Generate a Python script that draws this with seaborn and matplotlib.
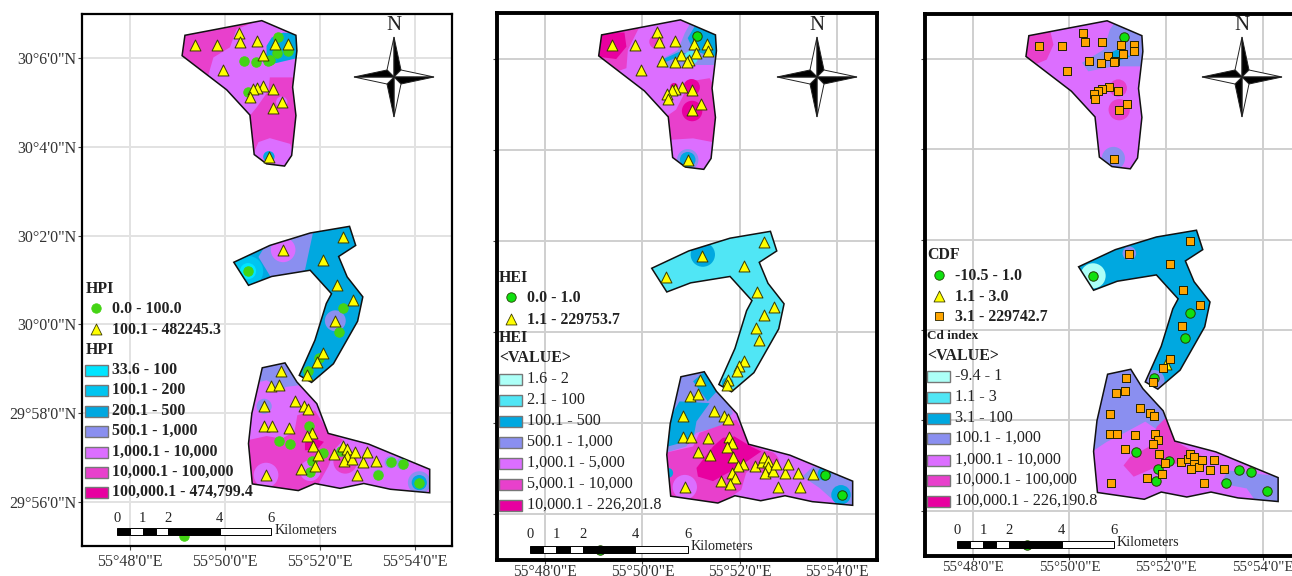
import matplotlib
matplotlib.use("Agg")
import matplotlib.pyplot as plt
import pandas as pd
import seaborn as sns
from matplotlib.patches import Ellipse, Polygon, Rectangle
from matplotlib.path import Path
from matplotlib.patches import PathPatch

# study area outlines, (minutes east of 55 deg, minutes north of 30 deg)
area_north = [(49.16, 6.52), (50.78, 6.85), (51.50, 6.52), (51.52, 6.17), (51.43, 5.35), (51.50, 4.71), (51.41, 3.81),
              (51.26, 3.57), (50.88, 3.62), (50.62, 3.83), (50.53, 4.72), (50.04, 5.29), (49.10, 6.06)]
area_middle = [(50.19, 1.40), (50.95, 1.78), (51.80, 2.06), (52.63, 2.21), (52.76, 1.78), (52.40, 1.53), (52.58, 1.07),
               (52.91, 0.62), (52.80, 0.07), (52.29, -0.89), (51.83, -1.31), (51.57, -1.15), (51.90, -0.36),
               (52.14, 0.47), (52.25, 0.69), (51.80, 1.22), (50.99, 1.08), (50.50, 0.88)]
area_south = [(50.79, -0.98), (51.27, -0.87), (51.52, -1.30), (51.94, -1.79), (52.18, -2.46), (53.03, -2.70),
              (54.32, -3.27), (54.32, -3.80), (53.49, -3.72), (52.93, -3.59), (52.43, -3.70), (51.90, -3.59),
              (51.55, -3.75), (50.58, -3.60), (50.50, -2.69), (50.57, -2.01)]

# sampling points
sample_lon = [49.37, 49.84, 50.29, 50.33, 50.67, 51.06, 51.33, 51.13, 51.34, 51.11, 50.80, 50.95, 50.92, 50.66, 50.41,
              49.96, 50.81, 51.01, 50.67, 50.60, 50.50, 50.53, 51.20, 51.02, 50.93,
              51.23, 52.50, 52.08, 50.49, 52.36, 52.70, 52.50, 52.33, 52.40, 52.08, 51.99, 51.94, 51.76, 51.74,
              51.18, 50.97, 51.15, 51.47, 51.67, 51.75, 50.83, 50.83, 50.99, 51.35, 51.78, 51.83, 51.74, 51.15,
              51.38, 51.86, 52.06, 51.97, 52.31, 52.45, 52.49, 52.57, 52.58, 52.52, 52.68, 52.75, 52.92, 52.99,
              53.19, 53.50, 53.75, 53.24, 54.10, 52.78, 51.83, 51.91, 51.80, 51.61, 50.87, 49.13]
sample_lat = [6.30, 6.30, 6.58, 6.37, 6.38, 6.32, 6.32, 6.49, 6.17, 6.12, 6.07, 5.96, 5.93, 5.92, 5.95,
              5.74, 5.38, 5.30, 5.33, 5.30, 5.23, 5.12, 5.01, 4.87, 3.78,
              1.68, 1.98, 1.46, 1.20, 0.88, 0.56, 0.37, 0.08, -0.17, -0.64, -0.75, -0.85, -1.06, -1.15,
              -1.06, -1.40, -1.36, -1.73, -1.84, -1.90, -1.85, -2.30, -2.30, -2.33, -2.30, -2.44, -2.52, -2.64,
              -2.70, -2.74, -2.90, -2.94, -2.93, -2.86, -2.74, -2.82, -2.97, -3.09, -3.04, -2.89, -3.10, -2.89,
              -3.09, -3.11, -3.14, -3.39, -3.57, -3.40, -3.09, -3.20, -3.34, -3.27, -3.40, -4.77]
hpi_class = list("ttttttt" "ccc" "t" "cccc" "ttttt" "c" "tttt"
                 "tttcttctctctct"
                 "tttttttttt" "c" "tt" "cc" "t" "c" "tt" "c" "ttttttttt" "cccc" "t" "c" "t" "c" "tt" "c")
hei_class = list("ttttttt" "c" "ttttttttttttttttt"
                 "tttttttttttttt"
                 "tttttttttt" "tttttttttt" "tttttttttt" "ctc" "tttttt" "c")
cdf_class = list("sssssss" "c" "sssssssssssssssss"
                 "ssscsscscstscs"
                 "ssssssssss" "ssss" "c" "s" "c" "ssssssssssss" "cccc" "s" "c" "s" "c" "ss" "c")

# zones of the first map
hpi_light_n = [(49.65, 5.61), (49.76, 6.02), (50.11, 6.25), (50.25, 6.66), (50.78, 6.88), (51.59, 6.58), (51.59, 5.57),
               (50.95, 5.57), (50.92, 5.27), (50.67, 4.89), (50.53, 4.71), (50.04, 5.29)]
hpi_blue_n = [(50.88, 6.28), (50.99, 6.47), (51.23, 6.58), (51.59, 6.55), (51.59, 6.02), (50.95, 5.86), (50.81, 5.91),
              (50.88, 6.10)]
hpi_light_n2 = [(50.57, 3.77), (50.71, 4.11), (50.95, 4.20), (51.38, 4.07), (51.48, 3.77), (51.31, 3.51), (50.88, 3.54)]
hpi_peri_m = [(50.71, 1.52), (50.88, 1.82), (51.87, 2.12), (51.69, 1.22), (50.99, 1.03)]
hpi_peri_s = [(50.74, -0.96), (51.31, -0.81), (51.59, -1.37), (51.16, -1.43), (50.88, -1.26), (50.74, -1.30)]
hpi_mag_s = [(50.50, -2.61), (50.88, -2.52), (51.20, -2.58), (51.47, -2.42), (51.53, -2.05), (51.90, -1.94),
             (52.18, -2.42), (52.50, -2.61), (52.33, -2.80), (52.18, -3.21), (51.94, -3.67), (51.55, -3.82),
             (50.53, -3.66)]
hpi_deep_s = [(51.69, -2.67), (51.90, -2.58), (52.09, -2.65), (51.94, -2.84), (51.69, -2.84)]

# zones of the second map
hei_mag_nw = [(49.05, 6.59), (49.94, 6.70), (49.70, 6.19), (49.67, 5.79), (49.46, 5.71), (49.05, 6.04)]
hei_deep_nw = [(49.12, 6.59), (49.63, 6.57), (49.67, 6.26), (49.46, 5.99), (49.09, 6.04)]
hei_mag_n = [(50.69, 4.88), (50.83, 5.17), (50.97, 5.50), (51.38, 5.57), (51.58, 5.17), (51.58, 4.14), (51.04, 4.25),
             (50.59, 4.22), (50.49, 4.73)]
hei_peri_n = [(50.32, 5.94), (50.73, 6.19), (50.87, 6.56), (51.00, 6.81), (51.58, 6.59), (51.55, 5.86), (51.04, 5.86),
              (50.49, 5.79)]
hei_blue_n = [(50.93, 6.45), (51.07, 6.70), (51.58, 6.56), (51.55, 6.05), (51.31, 6.08), (51.04, 6.19)]
hei_blue_n2 = [(50.35, 5.95), (50.76, 6.15), (50.90, 6.11), (50.49, 5.93)]
hei_peri_s = [(50.73, -0.94), (51.31, -0.83), (51.65, -1.19), (51.86, -1.78), (51.58, -2.07), (51.11, -2.21),
              (50.90, -2.51), (50.46, -2.65), (50.49, -1.85)]
hei_blue_s1 = [(51.04, -1.08), (51.31, -0.83), (51.62, -1.19), (51.34, -1.52)]
hei_blue_s2 = [(50.56, -1.89), (50.76, -1.52), (51.38, -1.56), (51.11, -1.96), (51.04, -2.36), (50.52, -2.51)]
hei_mag_s = [(50.46, -2.65), (51.04, -2.51), (51.17, -2.21), (51.93, -1.92), (52.23, -2.47), (52.61, -2.65),
             (52.13, -3.09), (52.03, -3.46), (51.52, -3.82), (50.56, -3.68)]
hei_deep_s = [(51.11, -2.98), (51.45, -2.51), (51.65, -2.32), (51.89, -2.29), (52.23, -2.51), (52.44, -2.62),
              (51.99, -2.95), (51.45, -3.27), (51.14, -3.17)]
hei_peri_e = [(53.50, -2.95), (54.39, -3.20), (54.39, -3.82), (53.91, -3.68), (53.64, -3.42), (53.29, -3.17)]

# zones of the third map
cdf_mag_nw = [(49.05, 6.58), (49.60, 6.64), (49.67, 6.32), (49.53, 5.99), (49.33, 5.90), (49.05, 6.07)]
cdf_peri_n = [(50.26, 5.92), (50.71, 6.21), (50.84, 6.66), (50.98, 6.88), (51.57, 6.62), (51.53, 5.84), (50.91, 5.84),
              (50.39, 5.73)]
cdf_blue_n = [(50.71, 6.07), (50.98, 6.21), (51.26, 6.06), (50.98, 5.95)]
cdf_peri_s = [(50.71, -0.96), (51.29, -0.85), (52.02, -1.85), (52.19, -2.48), (51.57, -2.03), (51.12, -2.29),
              (50.77, -2.48), (50.46, -2.70), (50.53, -2.00)]
cdf_mag_s = [(51.12, -3.00), (51.26, -2.81), (51.64, -2.59), (51.81, -2.14), (52.02, -1.92), (52.22, -2.48),
             (52.77, -2.81), (52.22, -2.96), (51.81, -3.03), (51.33, -3.25)]
cdf_peri_e = [(53.29, -3.11), (54.39, -3.25), (54.39, -3.85), (53.84, -3.77), (53.67, -3.51), (53.12, -3.40)]

hpi_labels = ["33.6 - 100", "100.1 - 200", "200.1 - 500", "500.1 - 1,000", "1,000.1 - 10,000", "10,000.1 - 100,000",
              "100,000.1 - 474,799.4"]
hei_labels = ["1.6 - 2", "2.1 - 100", "100.1 - 500", "500.1 - 1,000", "1,000.1 - 5,000", "5,000.1 - 10,000",
              "10,000.1 - 226,201.8"]
cdf_labels = ["-9.4 - 1", "1.1 - 3", "3.1 - 100", "100.1 - 1,000", "1,000.1 - 10,000", "10,000.1 - 100,000",
              "100,000.1 - 226,190.8"]
lon_ticks = [48, 50, 52, 54]
lon_labels = ["55°48'0\"E", "55°50'0\"E", "55°52'0\"E", "55°54'0\"E"]
lat_ticks = [6, 4, 2, 0, -2, -4]
lat_labels = ["30°6'0\"N", "30°4'0\"N", "30°2'0\"N", "30°0'0\"N", "29°58'0\"N", "29°56'0\"N"]
scale_km = [0, 1, 2, 4, 6]

CYAN, PALE, AQUA, SKY = "#00E5FF", "#ACFFF7", "#50E6F5", "#00C5F0"
BLUE, PERI, ORCHID, MAG, DEEP = "#00A8E0", "#8A8FF0", "#DC6EFF", "#E840CC", "#E800A0"

sns.set_style("white")
plt.rcParams["font.family"] = ["Liberation Serif", "DejaVu Serif"]

df = pd.DataFrame({"lon": sample_lon, "lat": sample_lat, "hpi": hpi_class, "hei": hei_class, "cdf": cdf_class})

panels = [
    {"cls": "hpi", "box": (82, 452, 14, 546), "xlim": (46.99, 54.79), "lw": 1.6, "grid": "#E2E2E2", "ylab": True,
     "green": ("#44D414", "#44D414"), "pad": 2.5, "tick_size": 11.5,
     "base": [MAG, BLUE, ORCHID],
     "zones": [(ORCHID, hpi_light_n), (BLUE, hpi_blue_n), (ORCHID, hpi_light_n2), (PERI, hpi_peri_m),
               (PERI, hpi_peri_s), (MAG, hpi_mag_s), (DEEP, hpi_deep_s)],
     "halos": [(SKY, 50.49, 1.20, 0.32), (CYAN, 50.49, 1.20, 0.17), (ORCHID, 51.23, 1.68, 0.26),
               (PERI, 52.33, 0.08, 0.22), (MAG, 52.54, -3.10, 0.25), (ORCHID, 50.87, -3.40, 0.26),
               (ORCHID, 51.80, -3.30, 0.22), (PERI, 50.83, -1.85, 0.16), (PERI, 51.15, -1.36, 0.14),
               (PERI, 54.10, -3.57, 0.24), (BLUE, 54.10, -3.57, 0.16), (PERI, 53.50, -3.11, 0.13),
               (PERI, 53.75, -3.14, 0.13), (PERI, 53.24, -3.39, 0.11), (ORCHID, 51.20, 5.01, 0.12),
               (BLUE, 50.93, 3.78, 0.12)]},
    {"cls": "hei", "box": (497, 877, 13, 560), "xlim": (47.01, 54.82), "lw": 2.8, "grid": "#CFCFCF", "ylab": False,
     "green": ("#10E010", "#224400"), "pad": 0, "tick_size": 11.2,
     "base": [ORCHID, AQUA, ORCHID],
     "zones": [(MAG, hei_mag_nw), (DEEP, hei_deep_nw), (MAG, hei_mag_n), (PERI, hei_peri_n), (BLUE, hei_blue_n),
               (BLUE, hei_blue_n2), (PERI, hei_peri_s), (BLUE, hei_blue_s1), (BLUE, hei_blue_s2), (MAG, hei_mag_s),
               (DEEP, hei_deep_s), (PERI, hei_peri_e)],
     "halos": [(AQUA, 51.00, 6.02, 0.14), (DEEP, 51.02, 4.85, 0.21), (DEEP, 51.01, 5.37, 0.17),
               (DEEP, 50.65, 5.38, 0.08), (MAG, 50.28, 6.37, 0.14), (PERI, 50.93, 3.78, 0.22),
               (BLUE, 50.93, 3.78, 0.16), (BLUE, 51.24, 1.70, 0.25), (BLUE, 51.75, -1.12, 0.12),
               (ORCHID, 50.87, -3.40, 0.25), (MAG, 52.57, -2.87, 0.24), (BLUE, 54.08, -3.57, 0.2),
               (BLUE, 53.74, -3.11, 0.14), (BLUE, 50.53, -3.09, 0.1)]},
    {"cls": "cdf", "box": (924.5, 1296, 14, 555.7), "xlim": (47.0, 54.69), "lw": 2.8, "grid": "#CFCFCF", "ylab": False,
     "green": ("#10E010", "#224400"), "pad": 1, "tick_size": 10.8,
     "base": [ORCHID, BLUE, ORCHID],
     "zones": [(MAG, cdf_mag_nw), (PERI, cdf_peri_n), (BLUE, cdf_blue_n), (PERI, cdf_peri_s), (MAG, cdf_mag_s),
               (PERI, cdf_peri_e)],
     "halos": [(PERI, 50.91, 3.80, 0.24), (MAG, 51.03, 4.88, 0.22), (MAG, 51.01, 5.36, 0.18),
               (PALE, 50.49, 1.20, 0.26), (PERI, 51.24, 1.70, 0.14), (PERI, 51.75, -1.12, 0.22)]},
]

legends = [
    {"sym_x": 96, "txt_x": 112, "sw_x": 85, "title_x": 86, "size": 11.4, "green": ("#44D414", "#44D414"),
     "point_title": ("HPI", 289), "point_rows": [("c", "0.0 - 100.0", 308), ("t", "100.1 - 482245.3", 329)],
     "heads": [("HPI", 350, 11.4)], "rows_y": [370, 390, 411, 431, 452, 472, 492], "labels": hpi_labels,
     "colors": [CYAN, SKY, BLUE, PERI, ORCHID, MAG, DEEP], "weight": "bold",
     "scale": (117, 271, 528, 535, 518), "km": (275, 530), "north": (394, 77, 26)},
    {"sym_x": 511, "txt_x": 527, "sw_x": 499, "title_x": 499, "size": 11.6, "green": ("#10E010", "#224400"),
     "point_title": ("HEI", 278), "point_rows": [("c", "0.0 - 1.0", 297), ("t", "1.1 - 229753.7", 319)],
     "heads": [("HEI", 338, 11.4), ("<VALUE>", 358, 11.4)], "rows_y": [379, 400, 421, 442, 463, 484, 505],
     "labels": hei_labels, "colors": [PALE, AQUA, BLUE, PERI, ORCHID, MAG, DEEP], "weight": "normal",
     "scale": (530, 688, 546, 553, 535), "km": (691, 547), "north": (817, 77, 25)},
    {"sym_x": 939, "txt_x": 955, "sw_x": 927, "title_x": 927, "size": 11.6, "green": ("#10E010", "#224400"),
     "point_title": ("CDF", 255), "point_rows": [("c", "-10.5 - 1.0", 275), ("t", "1.1 - 3.0", 296),
                                                 ("s", "3.1 - 229742.7", 316)],
     "heads": [("Cd index", 336, 9.5), ("<VALUE>", 356, 11.4)], "rows_y": [376, 397, 418, 438, 460, 480, 501],
     "labels": cdf_labels, "colors": [PALE, AQUA, BLUE, PERI, ORCHID, MAG, DEEP], "weight": "normal",
     "scale": (957, 1114, 541, 548, 530), "km": (1117, 543), "north": (1242, 77, 26)},
]

W, H = 1292, 576
fig = plt.figure(figsize=(W / 100, H / 100), dpi=100)
marker_style = {"c": ("o", 46), "t": ("^", 62), "s": ("s", 40)}
fill_style = {"t": ("#FFFF00", "#3A3A00"), "s": ("#FFA500", "#222200")}

for p in panels:
    l, r, t, b = p["box"]
    ax = fig.add_axes([l / W, 1 - b / H, (r - l) / W, (b - t) / H])
    ax.set_xlim(*p["xlim"])
    ax.set_ylim(-5, 7)
    ax.set_xticks(lon_ticks, lon_labels, fontsize=p["tick_size"], color="#333333")
    ax.set_yticks(lat_ticks, lat_labels if p["ylab"] else [""] * 6, fontsize=11.5, color="#333333")
    ax.tick_params(axis="x", length=3, width=0.8, color="#444444", pad=p["pad"], bottom=True)
    ax.tick_params(axis="y", length=3, width=0.8, color="#444444", pad=1, left=True)
    ax.grid(True, color=p["grid"], lw=1.4)
    ax.set_axisbelow(True)
    for s in ax.spines.values():
        s.set_linewidth(p["lw"])
        s.set_color("black")

    verts, codes = [], []
    for area in (area_north, area_middle, area_south):
        verts += area + [area[0]]
        codes += [Path.MOVETO] + [Path.LINETO] * (len(area) - 1) + [Path.CLOSEPOLY]
    clip = PathPatch(Path(verts, codes), transform=ax.transData, fc="none", ec="none")
    ax.add_patch(clip)

    for area, col in zip((area_north, area_middle, area_south), p["base"]):
        ax.add_patch(Polygon(area, closed=True, fc=col, ec="none", zorder=2))
    for col, poly in p["zones"]:
        z = ax.add_patch(Polygon(poly, closed=True, fc=col, ec="none", zorder=2.1))
        z.set_clip_path(clip)
    for col, x0, y0, rad in p["halos"]:
        e = ax.add_patch(Ellipse((x0, y0), 2 * rad, 2 * rad * 1.07, fc=col, ec="none", zorder=2.2))
        e.set_clip_path(clip)
    for area in (area_north, area_middle, area_south):
        ax.add_patch(Polygon(area, closed=True, fc="none", ec="#111111", lw=1.1, zorder=2.5))

    for key, (mk, size) in marker_style.items():
        sub = df[df[p["cls"]] == key]
        if len(sub) == 0:
            continue
        col, edge = p["green"] if key == "c" else fill_style[key]
        sns.scatterplot(data=sub, x="lon", y="lat", marker=mk, color=col, s=size, edgecolor=edge, linewidth=0.7,
                        ax=ax, zorder=3, clip_on=True)
    ax.set_xlabel("")
    ax.set_ylabel("")

# overlay in pixels for legends, scale bars and north arrows
ov = fig.add_axes([0, 0, 1, 1], zorder=10)
ov.set_xlim(0, W)
ov.set_ylim(H, 0)
ov.axis("off")
ov.patch.set_alpha(0)

for lg in legends:
    wt = lg["weight"]
    ov.text(lg["title_x"], lg["point_title"][1], lg["point_title"][0], fontsize=11.4, fontweight="bold", va="center",
            color="#222222")
    for key, txt, y in lg["point_rows"]:
        mk, size = marker_style[key]
        col, edge = lg["green"] if key == "c" else fill_style[key]
        ov.scatter([lg["sym_x"]], [y], marker=mk, c=col, s=size, edgecolors=edge, linewidths=0.6)
        ov.text(lg["txt_x"], y + 1, txt, fontsize=11.4, fontweight="bold", va="center", color="#222222")
    for txt, y, size in lg["heads"]:
        ov.text(lg["title_x"], y, txt, fontsize=size, fontweight="bold", va="center", color="#222222")
    for y, txt, col in zip(lg["rows_y"], lg["labels"], lg["colors"]):
        ov.add_patch(Rectangle((lg["sw_x"], y - 5.5), 23, 11, fc=col, ec="#777777", lw=1))
        ov.text(lg["txt_x"], y, txt, fontsize=lg["size"], fontweight=wt, va="center", color="#222222")

    # scale bar
    x0, x1, y0, y1, ylab = lg["scale"]
    unit = (x1 - x0) / 6
    cuts = [0, 0.5, 1, 1.5, 2, 4, 6]
    for i in range(len(cuts) - 1):
        ov.add_patch(Rectangle((x0 + cuts[i] * unit, y0), (cuts[i + 1] - cuts[i]) * unit, y1 - y0,
                               fc="black" if i % 2 == 0 else "white", ec="black", lw=0.7))
    for km in scale_km:
        ov.text(x0 + km * unit, ylab, str(km), fontsize=10.5, ha="center", va="center", color="#222222")
    ov.text(lg["km"][0], lg["km"][1], "Kilometers", fontsize=10.2, va="center", color="#222222")

    # north arrow
    cx, cy, ny = lg["north"]
    ov.text(cx, ny, "N", fontsize=15, ha="center", va="center", color="#222222")
    arm, side = 40, 7
    arms = [((0, -arm), (side, -side), (-side, -side)), ((arm, 0), (side, side), (side, -side)),
            ((0, arm), (-side, side), (side, side)), ((-arm, 0), (-side, -side), (-side, side))]
    for tip, dark, light in arms:
        ov.add_patch(Polygon([(cx, cy), (cx + tip[0], cy + tip[1]), (cx + light[0], cy + light[1])], closed=True,
                             fc="white", ec="#222222", lw=0.7))
        ov.add_patch(Polygon([(cx, cy), (cx + tip[0], cy + tip[1]), (cx + dark[0], cy + dark[1])], closed=True,
                             fc="black", ec="#222222", lw=0.7))

fig.savefig("out.png", dpi=100)
